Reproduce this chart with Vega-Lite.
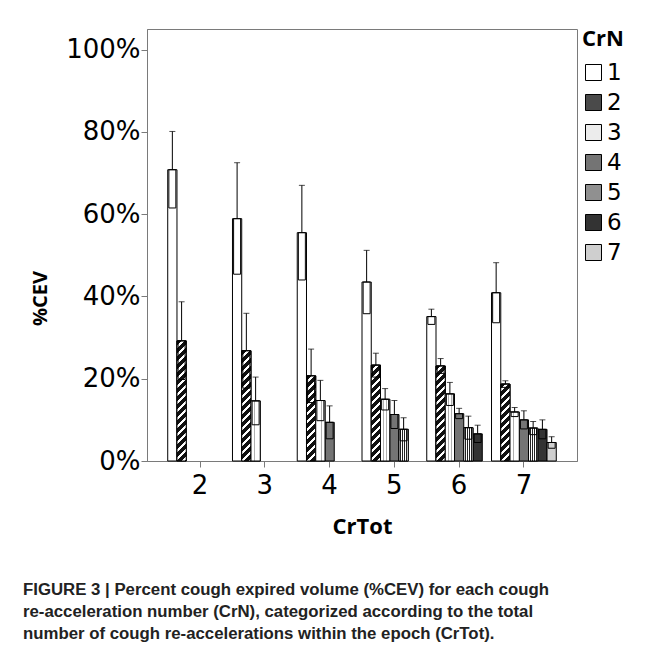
{
  "$schema": "https://vega.github.io/schema/vega-lite/v6.json",
  "width": 430,
  "height": 432,
  "autosize": "none",
  "padding": {"left": 147, "top": 29, "right": 82, "bottom": 200},
  "background": "white",
  "config": {"view": {"stroke": "#7a7a7a", "strokeWidth": 1}},
  "params": [
    {"name": "hatchStops", "value": [
      {"offset": 0, "color": "#111"}, {"offset": 0.0333, "color": "#111"}, {"offset": 0.0333, "color": "#fff"}, {"offset": 0.0556, "color": "#fff"},
      {"offset": 0.0556, "color": "#111"}, {"offset": 0.0889, "color": "#111"}, {"offset": 0.0889, "color": "#fff"}, {"offset": 0.1111, "color": "#fff"},
      {"offset": 0.1111, "color": "#111"}, {"offset": 0.1444, "color": "#111"}, {"offset": 0.1444, "color": "#fff"}, {"offset": 0.1667, "color": "#fff"},
      {"offset": 0.1667, "color": "#111"}, {"offset": 0.2, "color": "#111"}, {"offset": 0.2, "color": "#fff"}, {"offset": 0.2222, "color": "#fff"},
      {"offset": 0.2222, "color": "#111"}, {"offset": 0.2556, "color": "#111"}, {"offset": 0.2556, "color": "#fff"}, {"offset": 0.2778, "color": "#fff"},
      {"offset": 0.2778, "color": "#111"}, {"offset": 0.3111, "color": "#111"}, {"offset": 0.3111, "color": "#fff"}, {"offset": 0.3333, "color": "#fff"},
      {"offset": 0.3333, "color": "#111"}, {"offset": 0.3667, "color": "#111"}, {"offset": 0.3667, "color": "#fff"}, {"offset": 0.3889, "color": "#fff"},
      {"offset": 0.3889, "color": "#111"}, {"offset": 0.4222, "color": "#111"}, {"offset": 0.4222, "color": "#fff"}, {"offset": 0.4444, "color": "#fff"},
      {"offset": 0.4444, "color": "#111"}, {"offset": 0.4778, "color": "#111"}, {"offset": 0.4778, "color": "#fff"}, {"offset": 0.5, "color": "#fff"},
      {"offset": 0.5, "color": "#111"}, {"offset": 0.5333, "color": "#111"}, {"offset": 0.5333, "color": "#fff"}, {"offset": 0.5556, "color": "#fff"},
      {"offset": 0.5556, "color": "#111"}, {"offset": 0.5889, "color": "#111"}, {"offset": 0.5889, "color": "#fff"}, {"offset": 0.6111, "color": "#fff"},
      {"offset": 0.6111, "color": "#111"}, {"offset": 0.6444, "color": "#111"}, {"offset": 0.6444, "color": "#fff"}, {"offset": 0.6667, "color": "#fff"},
      {"offset": 0.6667, "color": "#111"}, {"offset": 0.7, "color": "#111"}, {"offset": 0.7, "color": "#fff"}, {"offset": 0.7222, "color": "#fff"},
      {"offset": 0.7222, "color": "#111"}, {"offset": 0.7556, "color": "#111"}, {"offset": 0.7556, "color": "#fff"}, {"offset": 0.7778, "color": "#fff"},
      {"offset": 0.7778, "color": "#111"}, {"offset": 0.8111, "color": "#111"}, {"offset": 0.8111, "color": "#fff"}, {"offset": 0.8333, "color": "#fff"},
      {"offset": 0.8333, "color": "#111"}, {"offset": 0.8667, "color": "#111"}, {"offset": 0.8667, "color": "#fff"}, {"offset": 0.8889, "color": "#fff"},
      {"offset": 0.8889, "color": "#111"}, {"offset": 0.9222, "color": "#111"}, {"offset": 0.9222, "color": "#fff"}, {"offset": 0.9444, "color": "#fff"},
      {"offset": 0.9444, "color": "#111"}, {"offset": 0.9778, "color": "#111"}, {"offset": 0.9778, "color": "#fff"}, {"offset": 1, "color": "#fff"}
    ]},
    {"name": "vStops", "value": [
      {"offset": 0, "color": "#fff"}, {"offset": 0.12, "color": "#fff"},
      {"offset": 0.12, "color": "#222"}, {"offset": 0.22, "color": "#222"},
      {"offset": 0.22, "color": "#fff"}, {"offset": 0.34, "color": "#fff"},
      {"offset": 0.34, "color": "#222"}, {"offset": 0.44, "color": "#222"},
      {"offset": 0.44, "color": "#fff"}, {"offset": 0.56, "color": "#fff"},
      {"offset": 0.56, "color": "#222"}, {"offset": 0.66, "color": "#222"},
      {"offset": 0.66, "color": "#fff"}, {"offset": 0.78, "color": "#fff"},
      {"offset": 0.78, "color": "#222"}, {"offset": 0.88, "color": "#222"},
      {"offset": 0.88, "color": "#fff"}, {"offset": 1, "color": "#fff"}
    ]},
    {"name": "dotStops", "value": [
      {"offset": 0, "color": "#fff"}, {"offset": 0.3, "color": "#fff"},
      {"offset": 0.3, "color": "#b0b0b0"}, {"offset": 0.4, "color": "#b0b0b0"},
      {"offset": 0.4, "color": "#fff"}, {"offset": 0.6, "color": "#fff"},
      {"offset": 0.6, "color": "#b0b0b0"}, {"offset": 0.7, "color": "#b0b0b0"},
      {"offset": 0.7, "color": "#fff"}, {"offset": 1, "color": "#fff"}
    ]}
  ],
  "title": {
    "text": ["FIGURE 3 | Percent cough expired volume (%CEV) for each cough", "re-acceleration number (CrN), categorized according to the total", "number of cough re-accelerations within the epoch (CrTot)."],
    "orient": "bottom",
    "anchor": "start",
    "frame": "group",
    "dx": -124,
    "offset": 45,
    "font": "Liberation Sans Narrow, Liberation Sans",
    "fontSize": 16.8,
    "fontWeight": "bold",
    "lineHeight": 22,
    "color": "#222"
  },
  "data": {
    "values": [
      {"CrTot": 2, "CrN": 1, "mean": 70.8, "lo": 61.5, "hi": 80.1},
      {"CrTot": 2, "CrN": 2, "mean": 29.2, "lo": 19.8, "hi": 38.7},
      {"CrTot": 3, "CrN": 1, "mean": 58.9, "lo": 45.4, "hi": 72.5},
      {"CrTot": 3, "CrN": 2, "mean": 26.8, "lo": 17.7, "hi": 35.9},
      {"CrTot": 3, "CrN": 3, "mean": 14.6, "lo": 8.8, "hi": 20.4},
      {"CrTot": 4, "CrN": 1, "mean": 55.5, "lo": 44.0, "hi": 67.0},
      {"CrTot": 4, "CrN": 2, "mean": 20.7, "lo": 14.2, "hi": 27.2},
      {"CrTot": 4, "CrN": 3, "mean": 14.7, "lo": 9.8, "hi": 19.6},
      {"CrTot": 4, "CrN": 4, "mean": 9.4, "lo": 5.4, "hi": 13.4},
      {"CrTot": 5, "CrN": 1, "mean": 43.5, "lo": 35.8, "hi": 51.2},
      {"CrTot": 5, "CrN": 2, "mean": 23.3, "lo": 20.4, "hi": 26.2},
      {"CrTot": 5, "CrN": 3, "mean": 15.0, "lo": 12.4, "hi": 17.6},
      {"CrTot": 5, "CrN": 4, "mean": 11.3, "lo": 7.9, "hi": 14.7},
      {"CrTot": 5, "CrN": 5, "mean": 7.7, "lo": 4.9, "hi": 10.5},
      {"CrTot": 6, "CrN": 1, "mean": 35.1, "lo": 33.2, "hi": 36.9},
      {"CrTot": 6, "CrN": 2, "mean": 23.1, "lo": 21.3, "hi": 24.9},
      {"CrTot": 6, "CrN": 3, "mean": 16.3, "lo": 13.5, "hi": 19.1},
      {"CrTot": 6, "CrN": 4, "mean": 11.5, "lo": 10.3, "hi": 12.8},
      {"CrTot": 6, "CrN": 5, "mean": 8.1, "lo": 5.3, "hi": 10.9},
      {"CrTot": 6, "CrN": 6, "mean": 6.6, "lo": 4.5, "hi": 8.7},
      {"CrTot": 7, "CrN": 1, "mean": 40.9, "lo": 33.6, "hi": 48.2},
      {"CrTot": 7, "CrN": 2, "mean": 18.7, "lo": 17.9, "hi": 19.5},
      {"CrTot": 7, "CrN": 3, "mean": 11.9, "lo": 10.8, "hi": 13.0},
      {"CrTot": 7, "CrN": 4, "mean": 10.0, "lo": 7.8, "hi": 12.2},
      {"CrTot": 7, "CrN": 5, "mean": 8.0, "lo": 6.4, "hi": 9.6},
      {"CrTot": 7, "CrN": 6, "mean": 7.7, "lo": 5.4, "hi": 10.0},
      {"CrTot": 7, "CrN": 7, "mean": 4.5, "lo": 3.1, "hi": 5.9}
    ]
  },
  "encoding": {
    "x": {
      "field": "CrTot",
      "type": "ordinal",
      "scale": {"paddingInner": 0, "paddingOuter": 0.32},
      "axis": {
        "title": "CrTot",
        "titleFont": "Open Sans",
        "titleFontSize": 22,
        "titleFontWeight": "bold",
        "titleColor": "black",
        "titlePadding": 18,
        "labelFont": "DejaVu Sans",
        "labelFontSize": 26,
        "labelColor": "black",
        "labelAngle": 0,
        "labelPadding": 5,
        "tickSize": 6,
        "tickColor": "#7a7a7a",
        "domainColor": "#7a7a7a"
      }
    },
    "xOffset": {"field": "CrN", "type": "ordinal", "scale": {"domain": [1, 2, 3, 4, 5, 6, 7], "paddingInner": 0, "paddingOuter": 0}}
  },
  "layer": [
    {
      "mark": {"type": "bar", "stroke": "black", "strokeWidth": 1},
      "encoding": {
        "y": {
          "field": "mean",
          "type": "quantitative",
          "scale": {"domain": [0, 105], "nice": false},
          "axis": {
            "title": "%CEV",
            "titleFont": "Open Sans",
            "titleFontSize": 20,
            "titleFontWeight": "bold",
            "titleColor": "black",
            "titleX": -107,
            "titleY": 269,
            "titleBaseline": "middle",
            "titleAlign": "center",
            "labelFont": "DejaVu Sans",
            "labelFontSize": 26,
            "labelColor": "black",
            "labelExpr": "datum.value + '%'",
            "labelPadding": 1,
            "values": [0, 20, 40, 60, 80, 100],
            "grid": false,
            "tickSize": 6,
            "tickColor": "#7a7a7a",
            "domainColor": "#7a7a7a"
          }
        },
        "fill": {
          "field": "CrN",
          "type": "nominal",
          "scale": {
            "domain": [1, 2, 3, 4, 5, 6, 7],
            "range": ["#ffffff", "#4a4a4a", "#ececec", "#747474", "#909090", "#333333", "#cfcfcf"]
          },
          "legend": {
            "orient": "right",
            "offset": 5,
            "padding": 0,
            "title": "CrN",
            "titleFont": "Open Sans",
            "titleFontSize": 22,
            "titleFontWeight": "bold",
            "titleColor": "black",
            "titlePadding": 10,
            "symbolType": "square",
            "symbolSize": 256,
            "symbolStrokeWidth": 1,
            "labelFont": "DejaVu Sans",
            "labelFontSize": 23,
            "labelColor": "black",
            "labelOffset": 2,
            "rowPadding": 6,
            "encode": {
              "symbols": {
                "update": {
                  "stroke": {"value": "black"},
                  "fill": {"value": {"expr": "datum.value == 2 ? {gradient: 'linear', x1: 0, y1: 0, x2: 4.5, y2: 4.5, stops: hatchStops} : datum.value == 3 ? {gradient: 'linear', x1: 0, y1: 0, x2: 1, y2: 0, stops: dotStops} : datum.value == 5 ? {gradient: 'linear', x1: 0, y1: 0, x2: 1, y2: 0, stops: vStops} : scale('fill', datum.value)"}}
                }
              }
            }
          }
        }
      }
    },
    {
      "transform": [{"filter": "datum.CrN == 2"}],
      "mark": {
        "type": "bar",
        "stroke": "black",
        "strokeWidth": 1,
        "fill": {"expr": "{gradient: 'linear', x1: 0, y1: 0, x2: bandwidth('xOffset') * 144 / (pow(bandwidth('xOffset'), 2) + pow(scale('y', 0) - scale('y', datum.mean), 2)), y2: (scale('y', 0) - scale('y', datum.mean)) * 144 / (pow(bandwidth('xOffset'), 2) + pow(scale('y', 0) - scale('y', datum.mean), 2)), stops: hatchStops}"}
      },
      "encoding": {"y": {"field": "mean", "type": "quantitative"}}
    },
    {
      "transform": [{"filter": "datum.CrN == 5"}],
      "mark": {
        "type": "bar",
        "stroke": "black",
        "strokeWidth": 1,
        "fill": {"expr": "{gradient: 'linear', x1: 0, y1: 0, x2: 1, y2: 0, stops: vStops}"}
      },
      "encoding": {"y": {"field": "mean", "type": "quantitative"}}
    },
    {
      "transform": [{"filter": "datum.CrN == 3"}],
      "mark": {
        "type": "bar",
        "stroke": "black",
        "strokeWidth": 1,
        "fill": {"expr": "{gradient: 'linear', x1: 0, y1: 0, x2: 1, y2: 0, stops: dotStops}"}
      },
      "encoding": {"y": {"field": "mean", "type": "quantitative"}}
    },
    {
      "mark": {"type": "bar", "fill": "transparent", "stroke": "black", "strokeWidth": 1, "width": 7},
      "encoding": {
        "y": {"field": "lo", "type": "quantitative"},
        "y2": {"field": "mean"}
      }
    },
    {
      "mark": {"type": "rule", "color": "black", "strokeWidth": 1},
      "encoding": {
        "y": {"field": "mean", "type": "quantitative"},
        "y2": {"field": "hi"}
      }
    },
    {
      "mark": {"type": "tick", "color": "black", "size": 6, "thickness": 1},
      "encoding": {
        "y": {"field": "hi", "type": "quantitative"}
      }
    }
  ]
}
